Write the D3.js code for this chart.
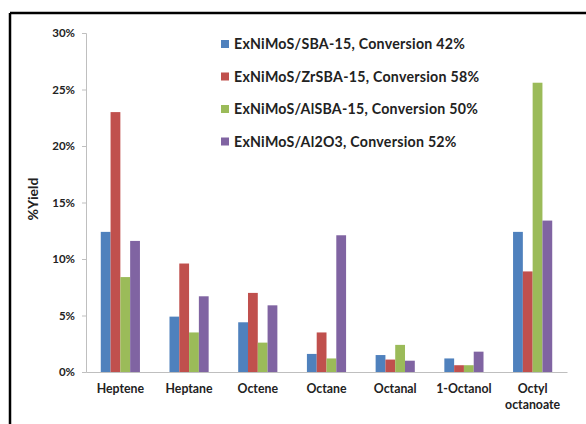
<!DOCTYPE html>
<html><head><meta charset="utf-8">
<script src="https://cdn.jsdelivr.net/npm/d3@7"></script>
<style>body{margin:0;background:#fff}svg{display:block}text{font-family:Lato,"Liberation Sans",sans-serif;font-weight:bold;fill:#222}</style>
</head><body><svg id="c" width="586" height="424"></svg>
<script>
const categories = ["Heptene","Heptane","Octene","Octane","Octanal","1-Octanol","Octyl octanoate"];
const seriesNames = ["ExNiMoS/SBA-15, Conversion 42%","ExNiMoS/ZrSBA-15, Conversion 58%","ExNiMoS/AlSBA-15, Conversion 50%","ExNiMoS/Al2O3, Conversion 52%"];
const sba15   = [12.4, 4.9, 4.4, 1.6, 1.5, 1.2, 12.4];
const zrsba15 = [23.0, 9.6, 7.0, 3.5, 1.1, 0.6, 8.9];
const alsba15 = [8.4, 3.5, 2.6, 1.2, 2.4, 0.6, 25.6];
const al2o3   = [11.6, 6.7, 5.9, 12.1, 1.0, 1.8, 13.4];
const yTicks = [0,5,10,15,20,25,30];
const colors = ["#4F81BD","#C0504D","#9BBB59","#8064A2"];
const series = [sba15, zrsba15, alsba15, al2o3];

const svg = d3.select("#c");
// frame
svg.append("line").attr("x1",10).attr("x2",586).attr("y1",13).attr("y2",13).attr("stroke","#000").attr("stroke-width",2.5);
svg.append("line").attr("x1",10).attr("x2",10).attr("y1",13).attr("y2",424).attr("stroke","#000").attr("stroke-width",2.5);

const L=86,R=567,T=33,B=372;
const y = d3.scaleLinear().domain([0,30]).range([B,T]);
const x0 = d3.scaleBand().domain(categories).range([L,R]).paddingInner(0.43).paddingOuter(0.215);
const x1 = d3.scaleBand().domain(d3.range(4)).range([0,x0.bandwidth()]);

// y axis
const ya = svg.append("g").attr("transform",`translate(${L},0)`)
  .call(d3.axisLeft(y).tickValues(yTicks).tickSize(4).tickPadding(7).tickFormat(d=>d+"%"));
ya.select(".domain").attr("stroke","#BFBFBF");
ya.selectAll(".tick line").attr("stroke","#BFBFBF");
ya.selectAll(".tick text").style("font-size","11.5px").attr("fill","#222");

// bars
categories.forEach((c,i)=>{
  series.forEach((s,j)=>{
    svg.append("rect").attr("x",x0(c)+x1(j)).attr("width",x1.bandwidth())
      .attr("y",y(s[i])).attr("height",B-y(s[i])).attr("fill",colors[j]);
  });
});

// x axis
const xa = svg.append("g").attr("transform",`translate(0,${B})`)
  .call(d3.axisBottom(x0).tickSize(0).tickPadding(0));
xa.select(".domain").attr("stroke","#BFBFBF");
xa.selectAll(".tick text").remove();
categories.forEach(c=>{
  const words = c==="Octyl octanoate" ? ["Octyl","octanoate"] : [c];
  words.forEach((w,k)=>{
    svg.append("text").attr("x",x0(c)+x0.bandwidth()/2).attr("y",393+k*16)
      .attr("text-anchor","middle").style("font-size","12.3px").text(w);
  });
});

// y label
svg.append("text").attr("transform","translate(38,199) rotate(-90)").attr("text-anchor","middle")
  .style("font-size","14px").text("%Yield");

// legend
const lg = svg.append("g");
seriesNames.forEach((n,j)=>{
  const yy = 44 + j*32.5;
  lg.append("rect").attr("x",221).attr("y",yy-4).attr("width",8).attr("height",8).attr("fill",colors[j]);
  lg.append("text").attr("x",234).attr("y",yy+5).style("font-size","14.2px").style("letter-spacing","0.25px").text(n);
});
</script></body></html>
